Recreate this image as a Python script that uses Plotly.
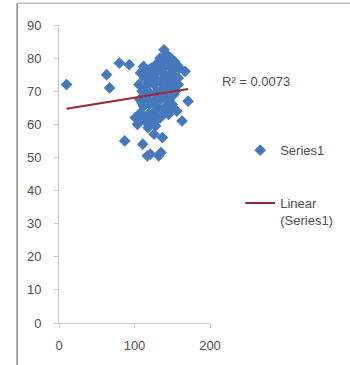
import numpy as np
import plotly.graph_objects as go

# Scatter data (x, y) for Series1
series_x = [10, 63, 67, 80, 93, 87,
            111, 117, 121, 132, 135, 126, 137, 101, 111, 163, 171, 167, 156,
            139, 143,
            134, 141, 148, 153,
            112, 128, 137, 146, 156, 160,
            108, 117, 124, 131, 141, 150, 158,
            113, 121, 134, 145, 152,
            106, 116, 126, 138, 148, 158,
            110, 120, 130, 141, 152,
            107, 115, 125, 135, 146,
            112, 120, 131, 140, 150,
            108, 118, 127, 136, 145,
            114, 122, 130, 148,
            104, 118, 128,
            136, 144, 152, 122, 128, 115, 138, 132, 143, 124, 110, 134, 142, 154, 119]
series_y = [72, 75, 71, 78.5, 78, 55,
            54, 50.5, 51, 50.5, 51.5, 57, 56, 62, 62, 61, 67, 76, 64,
            82.5, 81,
            80, 79.5, 80, 79,
            77.5, 78, 77, 77.5, 78, 77,
            75.5, 76, 75.5, 76, 75, 75.5, 74,
            74, 73.5, 73, 73.5, 72.5,
            72, 71.5, 72, 71, 70.5, 72,
            70, 69.5, 70, 68.5, 69,
            67.5, 68, 67, 67.5, 67,
            65.5, 66, 65, 64.5, 66,
            63.5, 63, 64, 62.5, 63,
            61, 60.5, 61.5, 64.5,
            60, 59, 59.5,
            79, 78.5, 76.5, 77, 73.5, 69.5, 74, 68.5, 71.5, 63, 66.5, 62, 65.5, 70, 74.5]

r2_label = "R\u00b2 = 0.0073"
x_ticks = [0, 100, 200]
y_ticks = list(range(0, 91, 10))

# Linear trend fitted to the series
slope, intercept = np.polyfit(series_x, series_y, 1)
trend_x = np.array([min(series_x), max(series_x)])
trend_y = slope * trend_x + intercept

font_family = "Liberation Sans, Arial, sans-serif"
text_color = "#505050"
axis_color = "#c8c8c8"

fig = go.Figure()
fig.add_trace(go.Scatter(
    x=series_x, y=series_y, mode="markers", name="Series1",
    marker=dict(symbol="diamond", size=9, color="#4678be", line=dict(width=0)),
    legendgroup="a",
))
fig.add_trace(go.Scatter(
    x=trend_x, y=trend_y, mode="lines", name="Linear<br>(Series1)",
    line=dict(color="#9e2633", width=2),
    legendgroup="b",
))

fig.add_annotation(
    x=1.065, y=0.81, xref="paper", yref="paper", xanchor="left", yanchor="middle",
    text=r2_label, showarrow=False, font=dict(size=13, color=text_color, family=font_family),
)

# Chart area border (left and top edges)
fig.add_shape(type="line", xref="paper", yref="paper", x0=-0.2774, x1=-0.2774, y0=-0.2, y1=1.0733,
              line=dict(color="#8a8a8a", width=1.5))
fig.add_shape(type="line", xref="paper", yref="paper", x0=-0.2774, x1=2.0, y0=1.0733, y1=1.0733,
              line=dict(color="#a0a0a0", width=1))

fig.update_layout(
    width=350, height=365,
    margin=dict(l=59, r=136, t=25, b=40),
    paper_bgcolor="white", plot_bgcolor="white",
    font=dict(family=font_family, size=13, color=text_color),
    showlegend=True,
    legend=dict(x=1.2, y=0.63, xanchor="left", yanchor="top",
                tracegroupgap=33, traceorder="grouped", valign="top",
                font=dict(size=13, color=text_color, family=font_family),
                bgcolor="rgba(0,0,0,0)"),
    xaxis=dict(range=[0, 200], tickvals=x_ticks, showgrid=False, zeroline=False,
               showline=True, linecolor=axis_color, linewidth=1,
               ticks="outside", ticklen=4, tickcolor=axis_color,
               ticklabelstandoff=6, fixedrange=True),
    yaxis=dict(range=[0, 90], tickvals=y_ticks, showgrid=False, zeroline=False,
               showline=True, linecolor=axis_color, linewidth=1,
               ticks="outside", ticklen=4, tickcolor=axis_color,
               ticklabelstandoff=10, fixedrange=True),
)

fig.write_html("out.html")
